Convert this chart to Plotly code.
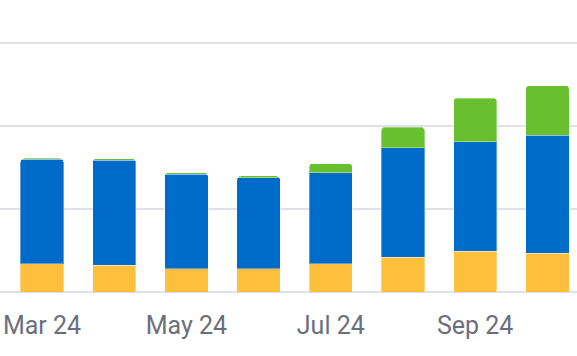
import plotly.graph_objects as go

months = ["Mar 24", "Apr 24", "May 24", "Jun 24", "Jul 24", "Aug 24", "Sep 24", "Oct 24"]
tick_labels = ["Mar 24", "May 24", "Jul 24", "Sep 24"]

series_yellow = [34, 32, 28, 28, 34, 42, 49, 47]
series_blue = [126, 127, 114, 110, 110, 132, 132, 142]
series_green = [1.2, 2, 2, 2, 11, 25, 53, 60]

colors = {"yellow": "#FDBF3C", "blue": "#006BC8", "green": "#68C030"}

fig = go.Figure()
for name, vals in [("yellow", series_yellow), ("blue", series_blue), ("green", series_green)]:
    fig.add_trace(go.Bar(
        x=months, y=vals, name=name,
        marker=dict(color=colors[name], line=dict(width=1, color="rgba(255,255,255,0.35)")),
    ))

fig.update_layout(
    width=577, height=356,
    margin=dict(l=0, r=0, t=0, b=63.5),
    barmode="stack", bargap=0.4, barcornerradius=4,
    showlegend=False,
    plot_bgcolor="white", paper_bgcolor="white",
    xaxis=dict(type="category", range=[-0.582, 7.41], tickvals=tick_labels, ticktext=tick_labels,
               showgrid=False, showline=False, ticks="", ticklabelstandoff=16, automargin=False,
               tickfont=dict(family="Roboto", size=25, color="#6b6f7b")),
    yaxis=dict(range=[0, 352.3], dtick=100, showticklabels=False, showgrid=True, automargin=False,
               gridcolor="#e0e0e8", gridwidth=1.5, zeroline=True, zerolinecolor="#e0e0e8",
               zerolinewidth=1.5, showline=False),
)
fig.write_html("out.html", config={"displayModeBar": False},
               post_script="document.body.style.margin='0';")
